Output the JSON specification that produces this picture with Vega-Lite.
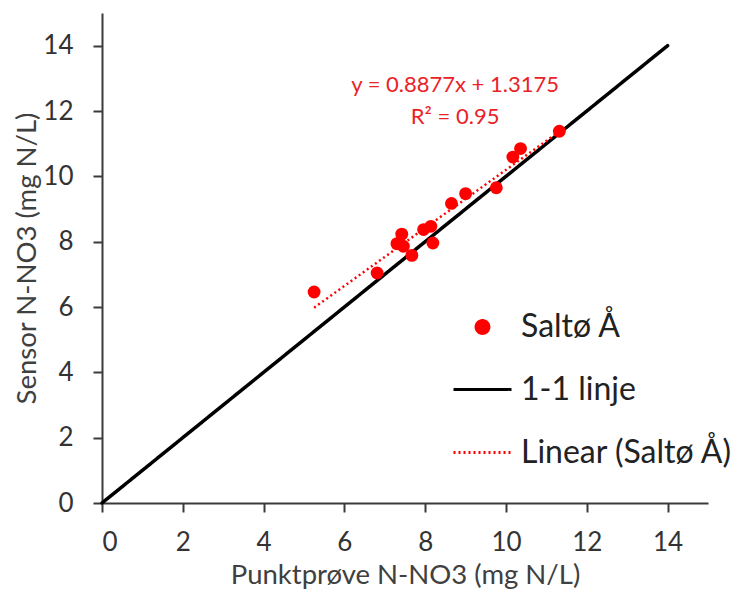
{
  "$schema": "https://vega.github.io/schema/vega-lite/v6.json",
  "width": 606,
  "height": 490,
  "autosize": {"type": "none"},
  "padding": {"left": 102, "top": 13, "right": 36, "bottom": 86},
  "background": "white",
  "config": {
    "font": "Lato",
    "view": {"stroke": null},
    "axis": {
      "grid": false,
      "domainColor": "#3a3a3a",
      "domainWidth": 2,
      "tickColor": "#3a3a3a",
      "tickWidth": 2,
      "tickSize": 9,
      "labelFontSize": 26,
      "labelColor": "#333333",
      "titleFontSize": 27.5,
      "titleFontWeight": "normal",
      "titleColor": "#404040"
    },
    "legend": {
      "labelFontSize": 32,
      "labelColor": "#222222",
      "labelLimit": 400,
      "padding": 0
    }
  },
  "datasets": {
    "points": [
      {"punkt": 5.25, "sensor": 6.46, "series": "Saltø Å"},
      {"punkt": 6.81, "sensor": 7.04, "series": "Saltø Å"},
      {"punkt": 7.42, "sensor": 8.23, "series": "Saltø Å"},
      {"punkt": 7.30, "sensor": 7.94, "series": "Saltø Å"},
      {"punkt": 7.46, "sensor": 7.86, "series": "Saltø Å"},
      {"punkt": 7.67, "sensor": 7.58, "series": "Saltø Å"},
      {"punkt": 7.96, "sensor": 8.37, "series": "Saltø Å"},
      {"punkt": 8.14, "sensor": 8.47, "series": "Saltø Å"},
      {"punkt": 8.19, "sensor": 7.96, "series": "Saltø Å"},
      {"punkt": 8.65, "sensor": 9.17, "series": "Saltø Å"},
      {"punkt": 9.00, "sensor": 9.47, "series": "Saltø Å"},
      {"punkt": 9.76, "sensor": 9.65, "series": "Saltø Å"},
      {"punkt": 10.17, "sensor": 10.59, "series": "Saltø Å"},
      {"punkt": 10.36, "sensor": 10.85, "series": "Saltø Å"},
      {"punkt": 11.32, "sensor": 11.38, "series": "Saltø Å"}
    ],
    "oneone": [
      {"punkt": 0, "sensor": 0, "series": "1-1 linje"},
      {"punkt": 14, "sensor": 14, "series": "1-1 linje"}
    ],
    "trend": [
      {"punkt": 5.25, "sensor": 5.98, "series": "Linear (Saltø Å)"},
      {"punkt": 11.32, "sensor": 11.37, "series": "Linear (Saltø Å)"}
    ],
    "annot": [
      {"eq": "y = 0.8877x + 1.3175", "r2": "R² = 0.95"}
    ]
  },
  "layer": [
    {
      "data": {"name": "oneone"},
      "mark": {"type": "line", "strokeWidth": 3.5, "strokeCap": "round"},
      "encoding": {
        "x": {
          "field": "punkt",
          "type": "quantitative",
          "scale": {"domain": [0, 15], "nice": false, "zero": false},
          "axis": {
            "title": "Punktprøve N-NO3 (mg N/L)",
            "values": [0, 2, 4, 6, 8, 10, 12, 14],
            "labelPadding": 17,
            "titleY": 80,
            "titleBaseline": "alphabetic"
          }
        },
        "y": {
          "field": "sensor",
          "type": "quantitative",
          "scale": {"domain": [0, 15], "nice": false, "zero": false},
          "axis": {
            "title": "Sensor N-NO3 (mg N/L)",
            "values": [0, 2, 4, 6, 8, 10, 12, 14],
            "labelPadding": 20,
            "titleX": -75,
            "titleBaseline": "middle"
          }
        },
        "color": {
          "field": "series", "type": "nominal",
          "scale": {"domain": ["Saltø Å", "1-1 linje", "Linear (Saltø Å)"], "range": ["#ff0000", "#000000", "#ff0000"]},
          "legend": {"title": null, "orient": "none", "legendX": 350, "legendY": 298, "symbolStrokeWidth": 3, "rowPadding": 16, "labelOffset": 8}
        },
        "strokeDash": {
          "field": "series", "type": "nominal",
          "scale": {"domain": ["Saltø Å", "1-1 linje", "Linear (Saltø Å)"], "range": [[1, 0], [1, 0], [2, 3]]},
          "legend": {"title": null, "orient": "none", "legendX": 350, "legendY": 298}
        }
      }
    },
    {
      "data": {"name": "trend"},
      "mark": {"type": "line", "strokeWidth": 2.5},
      "encoding": {
        "x": {"field": "punkt", "type": "quantitative"},
        "y": {"field": "sensor", "type": "quantitative"},
        "color": {"field": "series", "type": "nominal"},
        "strokeDash": {"field": "series", "type": "nominal"}
      }
    },
    {
      "data": {"name": "points"},
      "mark": {"type": "point", "filled": true, "opacity": 1, "strokeWidth": 0},
      "encoding": {
        "x": {"field": "punkt", "type": "quantitative"},
        "y": {"field": "sensor", "type": "quantitative"},
        "color": {"field": "series", "type": "nominal"},
        "shape": {
          "field": "series", "type": "nominal",
          "scale": {"domain": ["Saltø Å", "1-1 linje", "Linear (Saltø Å)"], "range": ["circle", "stroke", "stroke"]},
          "legend": {"title": null, "orient": "none", "legendX": 350, "legendY": 298}
        },
        "size": {
          "field": "series", "type": "nominal",
          "scale": {"type": "ordinal", "domain": ["Saltø Å", "1-1 linje", "Linear (Saltø Å)"], "range": [165, 3364, 3364]},
          "legend": {"title": null, "orient": "none", "legendX": 350, "legendY": 298}
        }
      }
    },
    {
      "data": {"name": "annot"},
      "mark": {"type": "text", "fontSize": 22, "fill": "#ea2227", "align": "center", "baseline": "middle"},
      "encoding": {
        "x": {"datum": 8.74, "type": "quantitative"},
        "y": {"datum": 12.8, "type": "quantitative"},
        "text": {"field": "eq", "type": "nominal"}
      }
    },
    {
      "data": {"name": "annot"},
      "mark": {"type": "text", "fontSize": 22, "fill": "#ea2227", "align": "center", "baseline": "middle"},
      "encoding": {
        "x": {"datum": 8.74, "type": "quantitative"},
        "y": {"datum": 11.83, "type": "quantitative"},
        "text": {"field": "r2", "type": "nominal"}
      }
    }
  ]
}
